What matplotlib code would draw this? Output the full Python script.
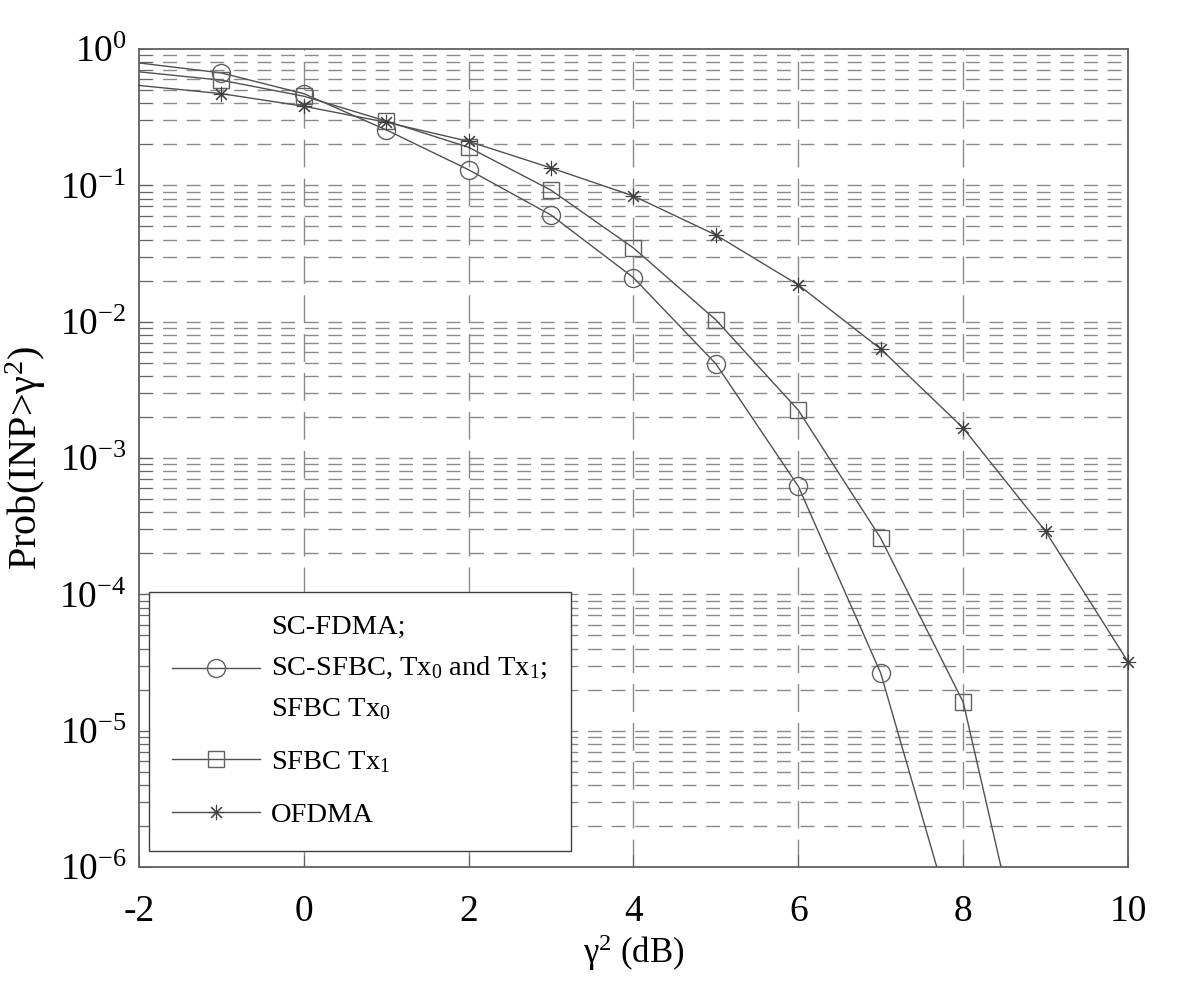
import matplotlib

matplotlib.use('Agg')
import matplotlib.pyplot as plt
from matplotlib.ticker import FixedLocator
import numpy as np

# marker positions (gamma^2 in dB) and values
x_circ = [-1, 0, 1, 2, 3, 4, 5, 6, 7]
y_circ = [0.667, 0.47, 0.255, 0.13, 0.0605, 0.021, 0.0049, 6.2e-4, 2.64e-5]

x_sq = [-1, 0, 1, 2, 3, 4, 5, 6, 7, 8]
y_sq = [0.59, 0.45, 0.296, 0.19, 0.092, 0.0347, 0.0103, 2.24e-3, 2.58e-4, 1.62e-5]

x_star = [-1, 0, 1, 2, 3, 4, 5, 6, 7, 8, 9, 10]
y_star = [0.47, 0.38, 0.29, 0.21, 0.134, 0.0835, 0.0432, 0.0186, 6.3e-3, 1.66e-3, 2.9e-4, 3.2e-5]

# curve ends (line starts at the left edge, runs off the bottom)
circ_start, circ_end = (-2, 0.79), (7.68, 1e-6)
sq_start, sq_end = (-2, 0.68), (8.46, 1e-6)
star_start = (-2, 0.54)

x_ticks = [-2, 0, 2, 4, 6, 8, 10]
x_grid = [0, 2, 4, 6, 8]
y_exps = [-6, -5, -4, -3, -2, -1, 0]

label_circ = 'SC-FDMA;\nSC-SFBC, Tx$_0$ and Tx$_1$;\nSFBC Tx$_0$'
label_sq = 'SFBC Tx$_1$'
label_star = 'OFDMA'

plt.rcParams['font.family'] = ['Liberation Serif', 'DejaVu Serif']
plt.rcParams['mathtext.fontset'] = 'custom'
plt.rcParams['mathtext.rm'] = 'Liberation Serif'
plt.rcParams['mathtext.it'] = 'Liberation Serif:italic'
plt.rcParams['mathtext.default'] = 'regular'
plt.rcParams['axes.unicode_minus'] = False

LINE_C = '#505050'
GRID_C = '#8a8a8a'

fig = plt.figure(figsize=(12, 9.91), dpi=100)
ax = fig.add_axes([0.1158, 0.1251, 0.8242, 0.8255])


def curve(start, xs, ys, end=None):
    cx = [start[0]] + list(xs)
    cy = [start[1]] + list(ys)
    if end is not None:
        cx.append(end[0])
        cy.append(end[1])
    return cx, cy


cx, cy = curve(circ_start, x_circ, y_circ, circ_end)
ax.plot(cx, cy, color=LINE_C, lw=1.0, zorder=3)
ax.plot(x_circ, y_circ, ls='none', marker='o', ms=13, mfc='none', mec='#606060', mew=1.0, zorder=4)

cx, cy = curve(sq_start, x_sq, y_sq, sq_end)
ax.plot(cx, cy, color=LINE_C, lw=1.0, zorder=3)
ax.plot(x_sq, y_sq, ls='none', marker='s', ms=12, mfc='none', mec='#606060', mew=1.0, zorder=4)

cx, cy = curve(star_start, x_star, y_star)
ax.plot(cx, cy, color=LINE_C, lw=1.0, zorder=3, clip_on=False)
ax.plot(x_star, y_star, ls='none', marker=(8, 2, 0), ms=11, mfc='none', mec='#404040', mew=0.8, zorder=4,
        clip_on=False)

# legend proxies (line + marker)
h1, = ax.plot([], [], color=LINE_C, lw=1.0, marker='o', ms=13, mfc='none', mec='#606060')
h2, = ax.plot([], [], color=LINE_C, lw=1.0, marker='s', ms=12, mfc='none', mec='#606060')
h3, = ax.plot([], [], color=LINE_C, lw=1.0, marker=(8, 2, 0), ms=11, mfc='none', mec='#404040', mew=0.8)

ax.set_yscale('log')
ax.set_xlim(-2, 10)
ax.set_ylim(1e-6, 1)

y_major = [10.0 ** e for e in y_exps]
y_minor = [m * 10.0 ** e for e in y_exps[:-1] for m in range(2, 10)]
ax.xaxis.set_major_locator(FixedLocator(x_ticks))
ax.yaxis.set_major_locator(FixedLocator(y_major))
ax.yaxis.set_minor_locator(FixedLocator(y_minor))
ax.set_yticklabels([r'$10^{%d}$' % e for e in y_exps])
ax.yaxis.set_minor_formatter(plt.NullFormatter())

# grid: horizontal short dashes on every decade step, vertical long dashes
for gy in y_major[1:-1] + y_minor:
    ax.axhline(gy, color=GRID_C, lw=1.0, dashes=(10, 7), zorder=1)
for gx in x_grid:
    ax.axvline(gx, color=GRID_C, lw=1.0, dashes=(20, 8), zorder=1)

ax.tick_params(axis='both', which='both', direction='in', color='#606060')
ax.tick_params(axis='both', which='major', length=9, labelsize=27)
ax.tick_params(axis='x', which='major', pad=20)
ax.tick_params(axis='y', which='major', pad=9)
ax.tick_params(axis='y', which='minor', length=9)
for s in ax.spines.values():
    s.set_color('#606060')
    s.set_linewidth(1.3)

ax.set_xlabel(r'$\gamma^2$ (dB)', fontsize=25, labelpad=2)
ax.set_ylabel(r'Prob(INP>$\gamma^2$)', fontsize=29, labelpad=8)

lgd = ax.legend([h1, h2, h3], [label_circ, label_sq, label_star], loc='lower left',
                bbox_to_anchor=(0.01, 0.02), fontsize=20.5, fancybox=False, framealpha=1,
                edgecolor='#404040', handlelength=3.1, handletextpad=0.4, labelspacing=0.95,
                borderpad=0.8, borderaxespad=0)
for t in lgd.get_texts():
    t.set_linespacing(1.75)
lgd.get_frame().set_linewidth(1.0)
lgd.set_zorder(5)

plt.savefig('out.png', dpi=100)
